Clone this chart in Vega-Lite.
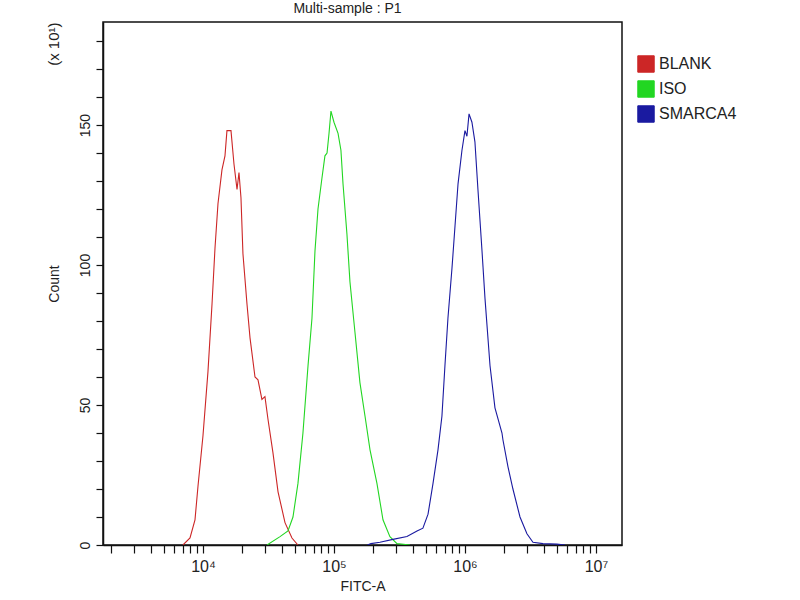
{
  "$schema": "https://vega.github.io/schema/vega-lite/v6.json",
  "width": 519,
  "height": 523,
  "autosize": "none",
  "padding": {"left": 103, "top": 22, "right": 178, "bottom": 55},
  "background": "white",
  "config": {
    "view": {"stroke": "#111", "strokeWidth": 1.5},
    "font": "Liberation Sans",
    "axis": {
      "labelFont": "Liberation Sans",
      "titleFont": "Liberation Sans",
      "labelColor": "#222",
      "titleColor": "#222",
      "labelFontSize": 14,
      "titleFontSize": 14,
      "titleFontWeight": "normal",
      "domainColor": "#111",
      "domainWidth": 1.5,
      "tickColor": "#111",
      "tickWidth": 1.2,
      "grid": false
    }
  },
  "title": {
    "text": "Multi-sample : P1",
    "fontSize": 14,
    "fontWeight": "normal",
    "font": "Liberation Sans",
    "color": "#222",
    "offset": 6,
    "dx": -15
  },
  "data": {
    "values": [
      {"sample": "BLANK", "fitc": 7030, "count": 0},
      {"sample": "BLANK", "fitc": 7960, "count": 2.5},
      {"sample": "BLANK", "fitc": 8690, "count": 9},
      {"sample": "BLANK", "fitc": 9160, "count": 21},
      {"sample": "BLANK", "fitc": 10000, "count": 39},
      {"sample": "BLANK", "fitc": 10920, "count": 62},
      {"sample": "BLANK", "fitc": 11720, "count": 86},
      {"sample": "BLANK", "fitc": 12350, "count": 106},
      {"sample": "BLANK", "fitc": 13020, "count": 122},
      {"sample": "BLANK", "fitc": 13960, "count": 134},
      {"sample": "BLANK", "fitc": 14720, "count": 139},
      {"sample": "BLANK", "fitc": 15240, "count": 148},
      {"sample": "BLANK", "fitc": 16360, "count": 148},
      {"sample": "BLANK", "fitc": 17250, "count": 136},
      {"sample": "BLANK", "fitc": 18190, "count": 127},
      {"sample": "BLANK", "fitc": 18830, "count": 133},
      {"sample": "BLANK", "fitc": 19500, "count": 124},
      {"sample": "BLANK", "fitc": 20190, "count": 104},
      {"sample": "BLANK", "fitc": 21680, "count": 86},
      {"sample": "BLANK", "fitc": 22860, "count": 74},
      {"sample": "BLANK", "fitc": 24950, "count": 60},
      {"sample": "BLANK", "fitc": 26300, "count": 59},
      {"sample": "BLANK", "fitc": 28180, "count": 52},
      {"sample": "BLANK", "fitc": 29720, "count": 53},
      {"sample": "BLANK", "fitc": 31330, "count": 45},
      {"sample": "BLANK", "fitc": 34200, "count": 33},
      {"sample": "BLANK", "fitc": 37410, "count": 19},
      {"sample": "BLANK", "fitc": 42270, "count": 8},
      {"sample": "BLANK", "fitc": 47780, "count": 2.5},
      {"sample": "BLANK", "fitc": 53090, "count": 0},
      {"sample": "ISO", "fitc": 30830, "count": 0},
      {"sample": "ISO", "fitc": 38730, "count": 3},
      {"sample": "ISO", "fitc": 44550, "count": 5},
      {"sample": "ISO", "fitc": 48640, "count": 10},
      {"sample": "ISO", "fitc": 53090, "count": 22},
      {"sample": "ISO", "fitc": 57960, "count": 40},
      {"sample": "ISO", "fitc": 63360, "count": 64},
      {"sample": "ISO", "fitc": 67920, "count": 81},
      {"sample": "ISO", "fitc": 71610, "count": 105},
      {"sample": "ISO", "fitc": 75510, "count": 120},
      {"sample": "ISO", "fitc": 80910, "count": 131},
      {"sample": "ISO", "fitc": 85310, "count": 139},
      {"sample": "ISO", "fitc": 88500, "count": 140},
      {"sample": "ISO", "fitc": 91620, "count": 147},
      {"sample": "ISO", "fitc": 94840, "count": 155},
      {"sample": "ISO", "fitc": 100000, "count": 151},
      {"sample": "ISO", "fitc": 107400, "count": 147},
      {"sample": "ISO", "fitc": 113000, "count": 141},
      {"sample": "ISO", "fitc": 117200, "count": 129},
      {"sample": "ISO", "fitc": 125600, "count": 111},
      {"sample": "ISO", "fitc": 132400, "count": 94},
      {"sample": "ISO", "fitc": 144600, "count": 76},
      {"sample": "ISO", "fitc": 157800, "count": 58},
      {"sample": "ISO", "fitc": 172600, "count": 46},
      {"sample": "ISO", "fitc": 188400, "count": 34},
      {"sample": "ISO", "fitc": 212800, "count": 22},
      {"sample": "ISO", "fitc": 236600, "count": 9},
      {"sample": "ISO", "fitc": 267300, "count": 3},
      {"sample": "ISO", "fitc": 302700, "count": 0.5},
      {"sample": "ISO", "fitc": 380200, "count": 0},
      {"sample": "SMARCA4", "fitc": 180000, "count": 0},
      {"sample": "SMARCA4", "fitc": 191500, "count": 0.5},
      {"sample": "SMARCA4", "fitc": 224400, "count": 1},
      {"sample": "SMARCA4", "fitc": 281800, "count": 2},
      {"sample": "SMARCA4", "fitc": 360600, "count": 3},
      {"sample": "SMARCA4", "fitc": 430500, "count": 5},
      {"sample": "SMARCA4", "fitc": 477500, "count": 6},
      {"sample": "SMARCA4", "fitc": 522400, "count": 11},
      {"sample": "SMARCA4", "fitc": 570200, "count": 22},
      {"sample": "SMARCA4", "fitc": 622300, "count": 34},
      {"sample": "SMARCA4", "fitc": 666800, "count": 46},
      {"sample": "SMARCA4", "fitc": 703100, "count": 64},
      {"sample": "SMARCA4", "fitc": 741300, "count": 81},
      {"sample": "SMARCA4", "fitc": 796200, "count": 99},
      {"sample": "SMARCA4", "fitc": 839500, "count": 114},
      {"sample": "SMARCA4", "fitc": 885100, "count": 129},
      {"sample": "SMARCA4", "fitc": 948400, "count": 141},
      {"sample": "SMARCA4", "fitc": 1000000, "count": 148},
      {"sample": "SMARCA4", "fitc": 1035000, "count": 146},
      {"sample": "SMARCA4", "fitc": 1074000, "count": 154},
      {"sample": "SMARCA4", "fitc": 1130000, "count": 151},
      {"sample": "SMARCA4", "fitc": 1191000, "count": 144},
      {"sample": "SMARCA4", "fitc": 1256000, "count": 127},
      {"sample": "SMARCA4", "fitc": 1349000, "count": 105},
      {"sample": "SMARCA4", "fitc": 1422000, "count": 88},
      {"sample": "SMARCA4", "fitc": 1553000, "count": 64},
      {"sample": "SMARCA4", "fitc": 1694000, "count": 49},
      {"sample": "SMARCA4", "fitc": 1916000, "count": 40},
      {"sample": "SMARCA4", "fitc": 1950000, "count": 37.5},
      {"sample": "SMARCA4", "fitc": 2128000, "count": 28},
      {"sample": "SMARCA4", "fitc": 2323000, "count": 20},
      {"sample": "SMARCA4", "fitc": 2630000, "count": 10},
      {"sample": "SMARCA4", "fitc": 2972000, "count": 4},
      {"sample": "SMARCA4", "fitc": 3304000, "count": 1},
      {"sample": "SMARCA4", "fitc": 3937000, "count": 0.5},
      {"sample": "SMARCA4", "fitc": 5035000, "count": 0.3},
      {"sample": "SMARCA4", "fitc": 5794000, "count": 0}
    ]
  },
  "layer": [
    {
      "mark": {"type": "line", "strokeWidth": 1.1, "clip": true},
      "encoding": {
        "x": {
          "field": "fitc",
          "type": "quantitative",
          "scale": {"type": "log", "domain": [1725, 15800000], "nice": false},
          "axis": {
            "title": "FITC-A",
            "titlePadding": 5,
            "values": [2000, 3000, 4000, 5000, 6000, 7000, 8000, 9000, 10000, 20000, 30000, 40000, 50000, 60000, 70000, 80000, 90000, 100000, 200000, 300000, 400000, 500000, 600000, 700000, 800000, 900000, 1000000, 2000000, 3000000, 4000000, 5000000, 6000000, 7000000, 8000000, 9000000, 10000000],
            "labelExpr": "datum.value == 10000 ? '10⁴' : datum.value == 100000 ? '10⁵' : datum.value == 1000000 ? '10⁶' : datum.value == 10000000 ? '10⁷' : ''",
            "labelOverlap": false,
            "labelFontSize": 16,
            "labelPadding": 5,
            "tickSize": 8
          }
        },
        "y": {
          "field": "count",
          "type": "quantitative",
          "scale": {"domain": [0, 186.8], "nice": false},
          "axis": {
            "title": "Count",
            "titleX": -42,
            "values": [0, 10, 20, 30, 40, 50, 60, 70, 80, 90, 100, 110, 120, 130, 140, 150, 160, 170, 180],
            "labelExpr": "datum.value % 50 == 0 ? datum.label : ''",
            "labelAngle": -90,
            "labelAlign": "center",
            "labelBaseline": "bottom",
            "labelPadding": 4,
            "tickSize": 7
          }
        },
        "color": {
          "field": "sample",
          "type": "nominal",
          "scale": {"domain": ["BLANK", "ISO", "SMARCA4"], "range": ["#cc2626", "#22d622", "#1a1aa0"]},
          "legend": {
            "title": null,
            "orient": "none",
            "legendX": 534,
            "legendY": 33,
            "symbolType": "square",
            "symbolSize": 270,
            "symbolStrokeWidth": 1,
            "labelFont": "Liberation Sans",
            "labelFontSize": 16,
            "labelColor": "#222",
            "rowPadding": 3,
            "encode": {
              "symbols": {
                "update": {
                  "fill": {"scale": "color", "field": "value"},
                  "stroke": {"value": "#333"},
                  "fillOpacity": {"value": 1}
                }
              }
            }
          }
        }
      }
    },
    {
      "mark": {"type": "line", "opacity": 0},
      "encoding": {
        "x": {"field": "fitc", "type": "quantitative"},
        "y": {
          "field": "count",
          "type": "quantitative",
          "axis": {
            "orient": "left",
            "title": "(x 10¹)",
            "titleAnchor": "end",
            "titleX": -42,
            "titleFontSize": 15,
            "ticks": false,
            "labels": false,
            "domain": false
          }
        },
        "color": {"field": "sample", "type": "nominal"}
      }
    }
  ],
  "resolve": {"axis": {"y": "independent"}}
}
